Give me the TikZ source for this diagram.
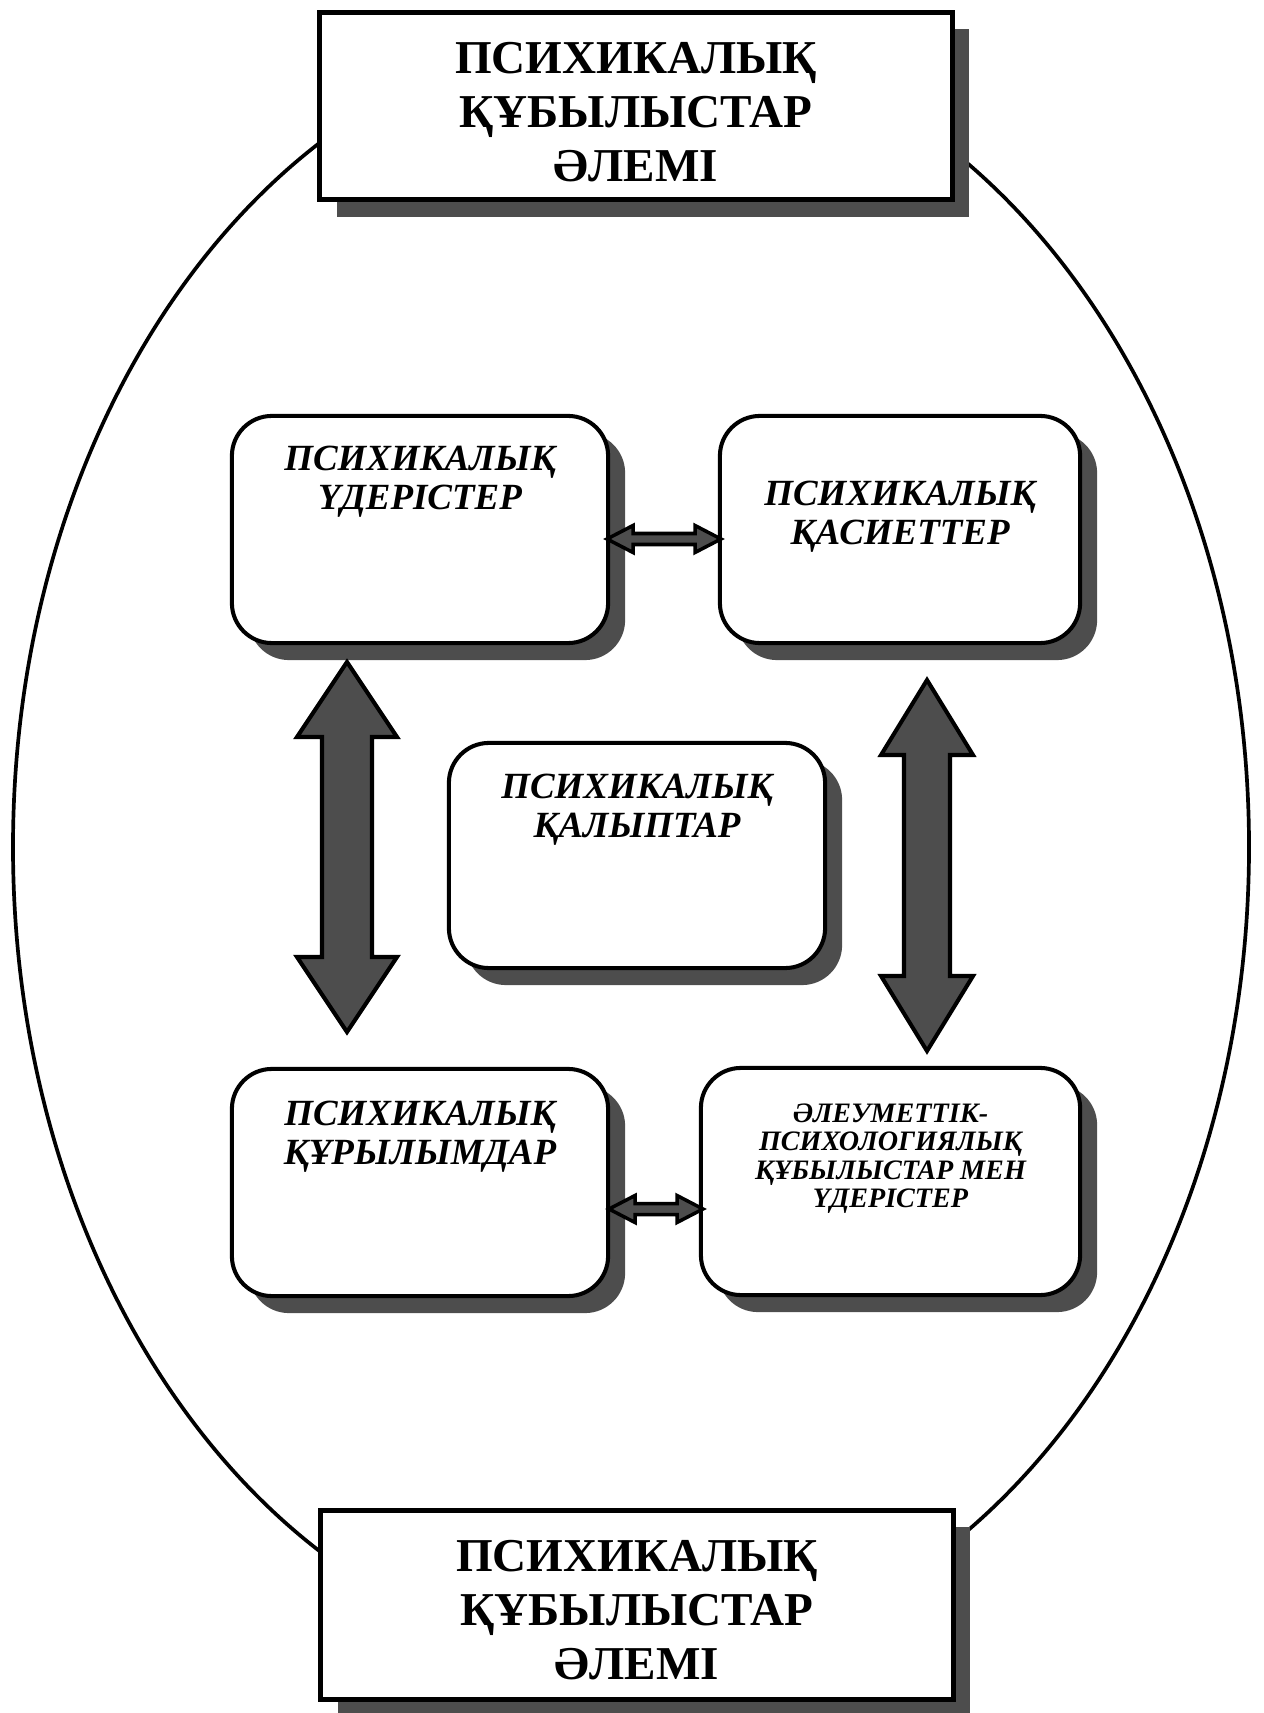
\documentclass[tikz,border=0pt]{standalone}
\usepackage{fontspec}
\setmainfont{Liberation Serif}
\usetikzlibrary{positioning,shadows}
\definecolor{shadowGrey}{HTML}{4D4D4D}
\tikzset{
        % Framed world boxes, top and bottom
        node_world/.style={rectangle, draw=black, line width=1.4pt, fill=white, minimum width=6.32cm, minimum height=1.87cm,
            drop shadow={shadow xshift=0.17cm, shadow yshift=-0.17cm, fill=shadowGrey, opacity=1}},
        % Rounded inner boxes
        node_box/.style={rectangle, rounded corners=0.4cm, draw=black, line width=1.15pt, fill=white, minimum width=3.76cm, minimum height=2.27cm,
            drop shadow={shadow xshift=0.17cm, shadow yshift=-0.17cm, fill=shadowGrey, opacity=1}},
        % Texts
        node_title/.style={align=center, inner sep=0pt, font=\fontsize{13.4pt}{15.3pt}\selectfont\bfseries},
        node_label/.style={align=center, inner sep=0pt, font=\fontsize{10.5pt}{11.1pt}\selectfont\bfseries\itshape},
        node_label_small/.style={align=center, inner sep=0pt, font=\fontsize{8pt}{8.1pt}\selectfont\bfseries\itshape},
        % Arrows
        arrow_big/.style={draw=black, line width=1.15pt, fill=shadowGrey, line join=miter},
        arrow_small/.style={draw=black, line width=1pt, fill=shadowGrey, line join=miter}
}
\begin{document}
\begin{tikzpicture}[x=0.01cm, y=-0.01cm]
    \useasboundingbox (0,0) rectangle (1263,1713);
    % outer oval
    \draw[line width=1.05pt] (631,847) ellipse [x radius=618, y radius=815];

    \node[node_world] (world_top) at (636,106) {};
    \node[node_title, below=0.32cm of world_top.north] (title_top) {ПСИХИКАЛЫҚ\\ҚҰБЫЛЫСТАР\\ӘЛЕМІ};
    \node[node_world, minimum height=1.89cm] (world_bottom) at (637,1605) {};
    \node[node_title, below=0.32cm of world_bottom.north] (title_bottom) {ПСИХИКАЛЫҚ\\ҚҰБЫЛЫСТАР\\ӘЛЕМІ};

    \node[node_box] (processes) at (420,529.5) {};
    \node[node_label, below=0.315cm of processes.north] (processes_text) {ПСИХИКАЛЫҚ\\ҮДЕРІСТЕР};
    \node[node_box, minimum width=3.60cm] (properties) at (900,529.5) {};
    \node[node_label, below=0.665cm of properties.north] (properties_text) {ПСИХИКАЛЫҚ\\ҚАСИЕТТЕР};
    \node[node_box, minimum height=2.25cm] (states) at (637,855.5) {};
    \node[node_label, below=0.325cm of states.north] (states_text) {ПСИХИКАЛЫҚ\\ҚАЛЫПТАР};
    \node[node_box] (structures) at (420,1182.5) {};
    \node[node_label, below=0.335cm of structures.north] (structures_text) {ПСИХИКАЛЫҚ\\ҚҰРЫЛЫМДАР};
    \node[node_box, minimum width=3.79cm] (social) at (890.5,1181.5) {};
    \node[node_label_small, below=0.37cm of social.north] (social_text) {ӘЛЕУМЕТТІК-\\ПСИХОЛОГИЯЛЫҚ\\ҚҰБЫЛЫСТАР МЕН\\ҮДЕРІСТЕР};

    % big vertical arrows
    \coordinate (tip_left) at (347,662);
    \draw[arrow_big] (tip_left) -- ++(50,75) -- ++(-25,0) -- ++(0,220) -- ++(25,0) -- ++(-50,75)
        -- ++(-50,-75) -- ++(25,0) -- ++(0,-220) -- ++(-25,0) -- cycle;
    \coordinate (tip_right) at (927,680);
    \draw[arrow_big] (tip_right) -- ++(46,75) -- ++(-23,0) -- ++(0,221) -- ++(23,0) -- ++(-46,75)
        -- ++(-46,-75) -- ++(23,0) -- ++(0,-221) -- ++(-23,0) -- cycle;

    % small horizontal arrows
    \coordinate (tip_upper) at (607,539);
    \draw[arrow_small] (tip_upper) -- ++(26,-13.5) -- ++(0,8) -- ++(62,0) -- ++(0,-8) -- ++(26,13.5)
        -- ++(-26,13.5) -- ++(0,-8) -- ++(-62,0) -- ++(0,8) -- cycle;
    \coordinate (tip_lower) at (609,1209);
    \draw[arrow_small] (tip_lower) -- ++(26,-13.5) -- ++(0,8) -- ++(42,0) -- ++(0,-8) -- ++(26,13.5)
        -- ++(-26,13.5) -- ++(0,-8) -- ++(-42,0) -- ++(0,8) -- cycle;
\end{tikzpicture}
\end{document}
